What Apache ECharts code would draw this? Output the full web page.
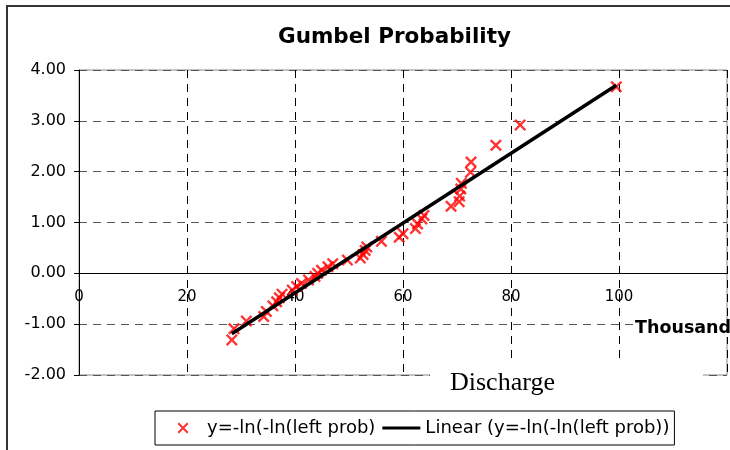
<!DOCTYPE html>
<html><head><meta charset="utf-8">
<script src="https://cdn.jsdelivr.net/npm/echarts@6/dist/echarts.min.js"></script>
<style>html,body{margin:0;padding:0;background:#fff}#c{width:730px;height:450px}</style>
</head><body><div id="c"></div>
<script>
// Discharge (thousands) and reduced variate y = -ln(-ln(p))
const discharge = [28.3, 28.7, 31.0, 34.2, 34.7, 35.9, 36.6, 37.1, 37.6, 39.5,
                   40.3, 41.2, 42.5, 43.7, 44.2, 44.9, 46.1, 47.0, 49.7, 52.1,
                   52.6, 53.0, 53.3, 56.0, 59.3, 60.0, 62.3, 62.7, 63.5, 63.9,
                   68.9, 70.4, 70.5, 70.7, 70.8, 72.5, 72.6, 77.2, 81.7, 99.5];
const reducedY = [-1.31, -1.09, -0.94, -0.85, -0.75, -0.64, -0.56, -0.48, -0.41, -0.33,
                  -0.26, -0.20, -0.13, -0.06, 0.00, 0.06, 0.13, 0.19, 0.26, 0.30,
                  0.37, 0.45, 0.52, 0.63, 0.71, 0.78, 0.88, 0.97, 1.07, 1.14,
                  1.32, 1.41, 1.52, 1.66, 1.77, 1.99, 2.19, 2.52, 2.92, 3.67];
const trendX = [28.3, 99.5];
const trendY = [-1.19, 3.70];
const xTickValues = [0, 20, 40, 60, 80, 100, 120];
const xTickLabels = ['0', '20', '40', '60', '80', '100', ''];
const yTickValues = [-2, -1, 0, 1, 2, 3, 4];
const yTickLabels = ['-2.00', '-1.00', '0.00', '1.00', '2.00', '3.00', '4.00'];
const seriesNames = ['y=-ln(-ln(left prob)', 'Linear (y=-ln(-ln(left prob))'];

const crossPath = 'path://M0,1.4L1.4,0L5,3.6L8.6,0L10,1.4L6.4,5L10,8.6L8.6,10L5,6.4L1.4,10L0,8.6L3.6,5Z';
// legend version: same cross, centred in a 38x11 box (bounding moves)
const crossLegend = 'path://M0,0M38,11M13.5,1.5L15,0L19,4L23,0L24.5,1.5L20.5,5.5L24.5,9.5L23,11L19,7L15,11L13.5,9.5L17.5,5.5Z';
const FONT = 'DejaVu Sans';

const chart = echarts.init(document.getElementById('c'), null, {renderer: 'canvas'});
chart.setOption({
  animation: false,
  backgroundColor: '#fff',
  title: {
    text: 'Gumbel Probability', left: 278, top: 26, padding: 0,
    textStyle: {fontFamily: FONT, fontWeight: 'bold', fontSize: 21.5, color: '#000'}
  },
  grid: {left: 79, top: 70, right: -11.4, bottom: 75, show: true, borderColor: '#888', borderWidth: 1, backgroundColor: 'transparent'},
  xAxis: {
    type: 'value', min: 0, max: 120, interval: 20,
    offset: -102,
    axisLine: {onZero: false, lineStyle: {color: '#000', width: 1}},
    axisTick: {show: false},
    axisLabel: {
      margin: 17, color: '#000', fontFamily: FONT, fontSize: 15,
      formatter: v => xTickLabels[xTickValues.indexOf(v)] ?? ''
    },
    splitLine: {show: true, lineStyle: {color: '#000', type: [8, 6], width: 1}}
  },
  yAxis: {
    type: 'value', min: -2, max: 4, interval: 1,
    axisLine: {show: true, onZero: false, lineStyle: {color: '#000', width: 1}},
    axisTick: {show: true, inside: false, length: 5, lineStyle: {color: '#000'}},
    axisLabel: {
      margin: 13, color: '#000', fontFamily: FONT, fontSize: 16,
      formatter: v => yTickLabels[yTickValues.indexOf(v)] ?? ''
    },
    splitLine: {show: true, lineStyle: {color: '#555', type: [8, 6], width: 1}}
  },
  legend: {
    left: 155, top: 411, orient: 'horizontal',
    padding: [8, 5, 8, 9], itemWidth: 38, itemHeight: 11, itemGap: 7,
    borderColor: '#000', borderWidth: 1, backgroundColor: '#fff',
    textStyle: {fontFamily: FONT, fontSize: 18, color: '#000'},
    data: [
      {name: seriesNames[0], icon: crossLegend, itemStyle: {color: '#ff0000'}},
      {name: seriesNames[1], icon: 'path://M0,0L40,0L40,3L0,3Z', itemStyle: {color: '#000'}}
    ]
  },
  graphic: [
    {type: 'rect', shape: {x: 7, y: 6, width: 800, height: 500}, style: {fill: 'none', stroke: '#333', lineWidth: 2}, z: 100, silent: true},
    {type: 'rect', shape: {x: 430, y: 362, width: 273, height: 38}, style: {fill: '#fff'}, z: 100, silent: true},
    {type: 'text', left: 450, top: 370, style: {text: 'Discharge', font: '26px "Liberation Serif"', fill: '#000'}, z: 101, silent: true},
    {type: 'text', left: 635, top: 319, style: {text: 'Thousands', font: 'bold 17.5px "DejaVu Sans"', fill: '#000', backgroundColor: '#fff'}, z: 101, silent: true}
  ],
  series: [
    {
      name: seriesNames[0], type: 'scatter', symbol: crossPath, symbolSize: 12,
      itemStyle: {color: '#ff0000'},
      data: discharge.map((x, i) => [x, reducedY[i]]), z: 2
    },
    {
      name: seriesNames[1], type: 'line', symbol: 'none', color: '#000',
      lineStyle: {color: '#000', width: 3.5},
      data: trendX.map((x, i) => [x, trendY[i]]), z: 3
    }
  ]
});
</script></body></html>
